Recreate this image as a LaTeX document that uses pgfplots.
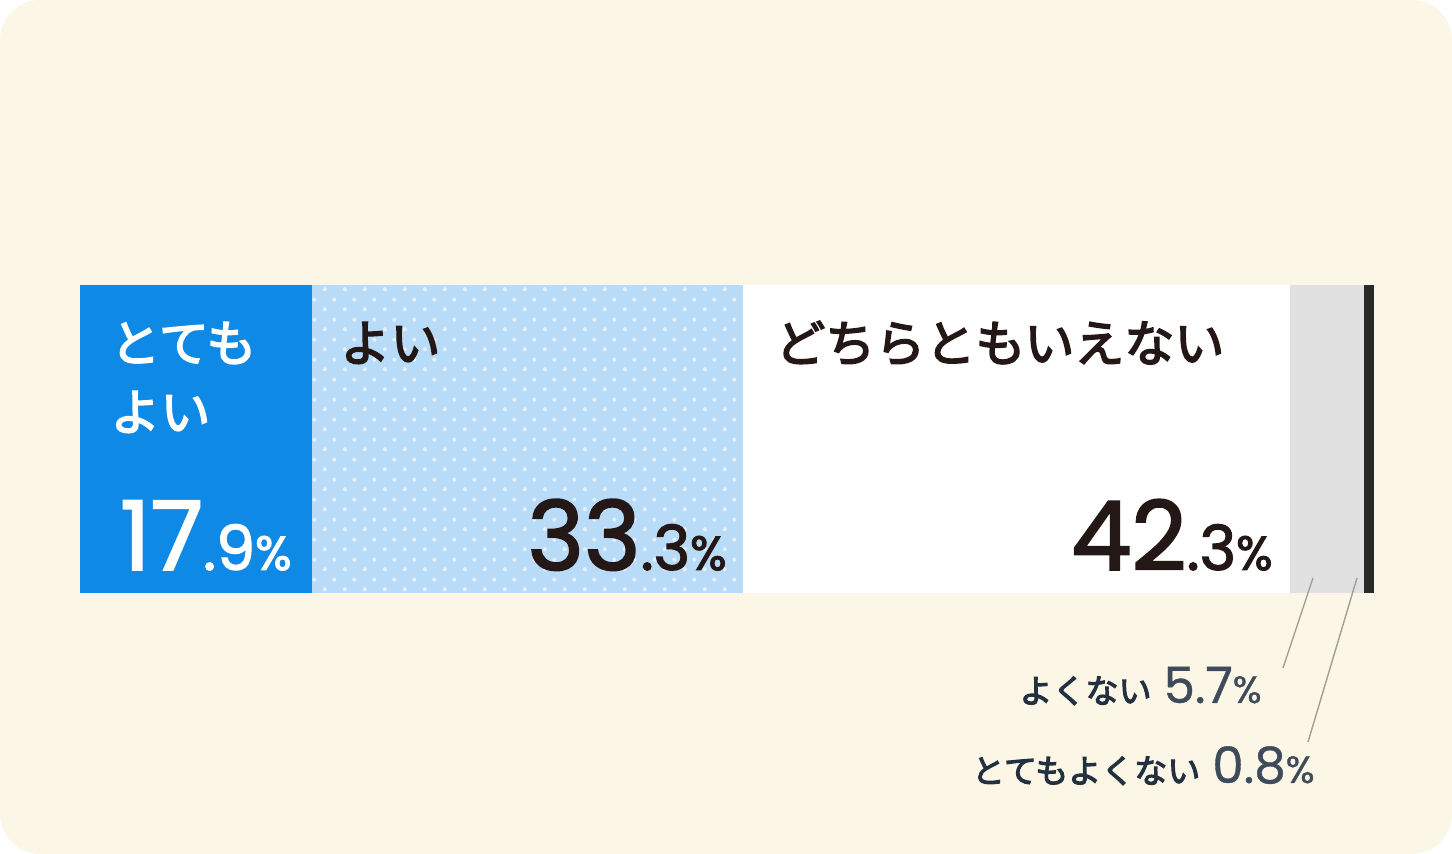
\documentclass[border=0pt]{standalone}
\usepackage{pgfplots}
\pgfplotsset{compat=1.18}
\usepackage{fontspec}
\setmainfont{Poppins}[FakeBold=2]
\newfontfamily\numlight{Poppins}[FakeBold=0.8]
\newfontfamily\jp{Noto Sans CJK JP}[FakeBold=3.2]
\usetikzlibrary{patterns}
\definecolor{bg}{HTML}{FCF6E6}
\definecolor{dblue}{HTML}{0F89E6}
\definecolor{lblue}{HTML}{B8DBF7}
\definecolor{dotc}{HTML}{E4F1FC}
\definecolor{lgray}{HTML}{E1E1E1}
\definecolor{blk}{HTML}{2A2A2A}
\definecolor{ink}{HTML}{231815}
\definecolor{navy}{HTML}{22303F}
\definecolor{slate}{HTML}{3E4B5B}
\definecolor{leader}{HTML}{A09E98}
\pgfdeclarepatternformonly{polka}{\pgfpointorigin}{\pgfqpoint{10pt}{10pt}}{\pgfqpoint{10pt}{10pt}}{%
  \pgfpathcircle{\pgfqpoint{2.5pt}{2.5pt}}{1.1pt}%
  \pgfpathcircle{\pgfqpoint{7.5pt}{7.5pt}}{1.1pt}%
  \pgfusepath{fill}}
\pgfdeclarepatternformonly{vlines}{\pgfpointorigin}{\pgfqpoint{10pt}{10pt}}{\pgfqpoint{10pt}{10pt}}{%
  \pgfpathrectangle{\pgfqpoint{5pt}{0pt}}{\pgfqpoint{0.3pt}{10pt}}%
  \pgfusepath{fill}}
\begin{document}
\begin{tikzpicture}
\path[use as bounding box] (0,0) rectangle (726pt,427pt);
\fill[white] (0,0) rectangle (726pt,427pt);
\fill[bg, rounded corners=20pt] (0,0) rectangle (726pt,427pt);
\begin{axis}[
  at={(40pt,130.5pt)}, anchor=south west,
  scale only axis, width=647pt, height=154pt,
  xmin=0, xmax=100, ymin=0, ymax=1,
  hide axis, xbar stacked, bar width=154pt,
]
\addplot[fill=dblue, draw=none] coordinates {(17.9,0.5)};
\addplot[fill=lblue, draw=none, postaction={pattern=vlines, pattern color=lblue!85!white}, postaction={pattern=polka, pattern color=dotc}] coordinates {(33.3,0.5)};
\addplot[fill=white, draw=none] coordinates {(42.3,0.5)};
\addplot[fill=lgray, draw=none] coordinates {(5.7,0.5)};
\addplot[fill=blk, draw=none] coordinates {(0.8,0.5)};
\end{axis}
% segment labels
\node[anchor=west, inner sep=0, text=white, font=\jp\fontsize{25pt}{30pt}\selectfont] at (55pt,255.5pt) {とても};
\node[anchor=west, inner sep=0, text=white, font=\jp\fontsize{25pt}{30pt}\selectfont] at (55pt,221pt) {よい};
\node[anchor=west, inner sep=0, text=ink, font=\jp\fontsize{25pt}{30pt}\selectfont] at (170pt,255.5pt) {よい};
\node[anchor=west, inner sep=0, text=ink, font=\jp\fontsize{25pt}{30pt}\selectfont] at (387.5pt,255.5pt) {どちらともいえない};
% big values
\node[anchor=base east, inner sep=0, text=white] at (146pt,142pt) {\fontsize{48pt}{50pt}\selectfont 17\fontsize{31pt}{33pt}\selectfont .9\fontsize{24pt}{26pt}\selectfont\%};
\node[anchor=base east, inner sep=0, text=ink] at (363.5pt,142pt) {\fontsize{48pt}{50pt}\selectfont 33\fontsize{31pt}{33pt}\selectfont .3\fontsize{24pt}{26pt}\selectfont\%};
\node[anchor=base east, inner sep=0, text=ink] at (636.5pt,142pt) {\fontsize{48pt}{50pt}\selectfont 42\fontsize{31pt}{33pt}\selectfont .3\fontsize{24pt}{26pt}\selectfont\%};
% small labels
\node[anchor=base east, inner sep=0] at (631pt,75.5pt) {{\jp\color{navy}\fontsize{16.5pt}{20pt}\selectfont よくない}\hspace{6pt}{\numlight\color{slate}\fontsize{25pt}{27pt}\selectfont 5.7\fontsize{19pt}{21pt}\selectfont\%}};
\node[anchor=base east, inner sep=0] at (657.5pt,35.5pt) {{\jp\color{navy}\fontsize{16.5pt}{20pt}\selectfont とてもよくない}\hspace{6pt}{\numlight\color{slate}\fontsize{25pt}{27pt}\selectfont 0.8\fontsize{19pt}{21pt}\selectfont\%}};
% leader lines
\draw[leader, line width=0.7pt] (656.5pt,138pt) -- (641.5pt,93pt);
\draw[leader, line width=0.7pt] (678.5pt,138pt) -- (654pt,56pt);
\end{tikzpicture}
\end{document}
